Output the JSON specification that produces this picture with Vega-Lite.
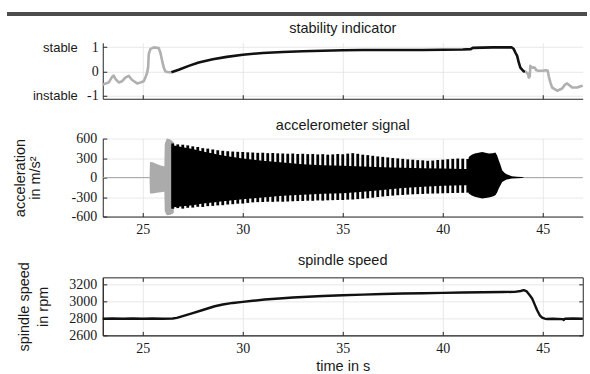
{
  "$schema": "https://vega.github.io/schema/vega-lite/v6.json",
  "padding": {"left": 5.75, "top": 12.75, "right": 2, "bottom": 0},
  "background": "white",
  "spacing": 13.8,
  "bounds": "full",
  "datasets": {
    "stab": [
      {"t": 23.0, "v": -0.55, "phase": "instable", "seg": "g1"},
      {"t": 23.05, "v": -0.52, "phase": "instable", "seg": "g1"},
      {"t": 23.3, "v": -0.45, "phase": "instable", "seg": "g1"},
      {"t": 23.47, "v": -0.22, "phase": "instable", "seg": "g1"},
      {"t": 23.55, "v": -0.17, "phase": "instable", "seg": "g1"},
      {"t": 23.63, "v": -0.3, "phase": "instable", "seg": "g1"},
      {"t": 23.8, "v": -0.45, "phase": "instable", "seg": "g1"},
      {"t": 23.97, "v": -0.4, "phase": "instable", "seg": "g1"},
      {"t": 24.13, "v": -0.25, "phase": "instable", "seg": "g1"},
      {"t": 24.3, "v": -0.18, "phase": "instable", "seg": "g1"},
      {"t": 24.47, "v": -0.35, "phase": "instable", "seg": "g1"},
      {"t": 24.72, "v": -0.49, "phase": "instable", "seg": "g1"},
      {"t": 24.88, "v": -0.45, "phase": "instable", "seg": "g1"},
      {"t": 25.05, "v": -0.4, "phase": "instable", "seg": "g1"},
      {"t": 25.13, "v": -0.25, "phase": "instable", "seg": "g1"},
      {"t": 25.22, "v": -0.04, "phase": "instable", "seg": "g1"},
      {"t": 25.27, "v": 0.17, "phase": "instable", "seg": "g1"},
      {"t": 25.3, "v": 0.71, "phase": "instable", "seg": "g1"},
      {"t": 25.38, "v": 0.92, "phase": "instable", "seg": "g1"},
      {"t": 25.55, "v": 0.99, "phase": "instable", "seg": "g1"},
      {"t": 25.8, "v": 0.96, "phase": "instable", "seg": "g1"},
      {"t": 25.88, "v": 0.78, "phase": "instable", "seg": "g1"},
      {"t": 25.97, "v": 0.44, "phase": "instable", "seg": "g1"},
      {"t": 26.05, "v": 0.16, "phase": "instable", "seg": "g1"},
      {"t": 26.13, "v": 0.0, "phase": "instable", "seg": "g1"},
      {"t": 26.3, "v": -0.03, "phase": "instable", "seg": "g1"},
      {"t": 26.43, "v": -0.03, "phase": "instable", "seg": "g1"},
      {"t": 26.43, "v": -0.03, "phase": "stable", "seg": "b"},
      {"t": 26.8, "v": 0.07, "phase": "stable", "seg": "b"},
      {"t": 27.3, "v": 0.23, "phase": "stable", "seg": "b"},
      {"t": 27.8, "v": 0.37, "phase": "stable", "seg": "b"},
      {"t": 28.5, "v": 0.5, "phase": "stable", "seg": "b"},
      {"t": 29.2, "v": 0.6, "phase": "stable", "seg": "b"},
      {"t": 30.0, "v": 0.69, "phase": "stable", "seg": "b"},
      {"t": 31.0, "v": 0.76, "phase": "stable", "seg": "b"},
      {"t": 32.0, "v": 0.8, "phase": "stable", "seg": "b"},
      {"t": 33.0, "v": 0.83, "phase": "stable", "seg": "b"},
      {"t": 34.0, "v": 0.85, "phase": "stable", "seg": "b"},
      {"t": 35.0, "v": 0.87, "phase": "stable", "seg": "b"},
      {"t": 36.0, "v": 0.88, "phase": "stable", "seg": "b"},
      {"t": 37.0, "v": 0.88, "phase": "stable", "seg": "b"},
      {"t": 38.0, "v": 0.88, "phase": "stable", "seg": "b"},
      {"t": 39.0, "v": 0.88, "phase": "stable", "seg": "b"},
      {"t": 40.0, "v": 0.89, "phase": "stable", "seg": "b"},
      {"t": 41.0, "v": 0.9, "phase": "stable", "seg": "b"},
      {"t": 41.4, "v": 0.92, "phase": "stable", "seg": "b"},
      {"t": 41.5, "v": 0.97, "phase": "stable", "seg": "b"},
      {"t": 42.5, "v": 0.99, "phase": "stable", "seg": "b"},
      {"t": 43.45, "v": 0.99, "phase": "stable", "seg": "b"},
      {"t": 43.55, "v": 0.92, "phase": "stable", "seg": "b"},
      {"t": 43.63, "v": 0.78, "phase": "stable", "seg": "b"},
      {"t": 43.72, "v": 0.64, "phase": "stable", "seg": "b"},
      {"t": 43.8, "v": 0.37, "phase": "stable", "seg": "b"},
      {"t": 43.88, "v": 0.16, "phase": "stable", "seg": "b"},
      {"t": 44.05, "v": 0.0, "phase": "stable", "seg": "b"},
      {"t": 44.13, "v": 0.0, "phase": "stable", "seg": "b"},
      {"t": 44.13, "v": 0.0, "phase": "instable", "seg": "g2"},
      {"t": 44.27, "v": -0.1, "phase": "instable", "seg": "g2"},
      {"t": 44.3, "v": -0.25, "phase": "instable", "seg": "g2"},
      {"t": 44.35, "v": -0.2, "phase": "instable", "seg": "g2"},
      {"t": 44.38, "v": 0.23, "phase": "instable", "seg": "g2"},
      {"t": 44.47, "v": 0.16, "phase": "instable", "seg": "g2"},
      {"t": 44.6, "v": 0.16, "phase": "instable", "seg": "g2"},
      {"t": 44.68, "v": 0.05, "phase": "instable", "seg": "g2"},
      {"t": 44.8, "v": 0.03, "phase": "instable", "seg": "g2"},
      {"t": 45.0, "v": 0.03, "phase": "instable", "seg": "g2"},
      {"t": 45.15, "v": 0.05, "phase": "instable", "seg": "g2"},
      {"t": 45.25, "v": 0.03, "phase": "instable", "seg": "g2"},
      {"t": 45.3, "v": -0.2, "phase": "instable", "seg": "g2"},
      {"t": 45.38, "v": -0.45, "phase": "instable", "seg": "g2"},
      {"t": 45.47, "v": -0.66, "phase": "instable", "seg": "g2"},
      {"t": 45.72, "v": -0.79, "phase": "instable", "seg": "g2"},
      {"t": 45.97, "v": -0.7, "phase": "instable", "seg": "g2"},
      {"t": 46.1, "v": -0.55, "phase": "instable", "seg": "g2"},
      {"t": 46.22, "v": -0.49, "phase": "instable", "seg": "g2"},
      {"t": 46.47, "v": -0.66, "phase": "instable", "seg": "g2"},
      {"t": 46.72, "v": -0.66, "phase": "instable", "seg": "g2"},
      {"t": 46.97, "v": -0.59, "phase": "instable", "seg": "g2"},
      {"t": 47.0, "v": -0.58, "phase": "instable", "seg": "g2"}
    ],
    "accZero": [
      {"t": 23.0, "a": 0, "seg": "z1"},
      {"t": 25.35, "a": 0, "seg": "z1"},
      {"t": 44.1, "a": 0, "seg": "z2"},
      {"t": 47.0, "a": 0, "seg": "z2"}
    ],
    "accGray": [
      {"t": 25.34, "hi": 0, "lo": 0},
      {"t": 25.36, "hi": 240, "lo": -245},
      {"t": 25.5, "hi": 235, "lo": -245},
      {"t": 25.7, "hi": 210, "lo": -235},
      {"t": 25.9, "hi": 185, "lo": -225},
      {"t": 26.05, "hi": 175, "lo": -220},
      {"t": 26.08, "hi": 175, "lo": -220},
      {"t": 26.1, "hi": 520, "lo": -520},
      {"t": 26.2, "hi": 600, "lo": -580},
      {"t": 26.35, "hi": 590, "lo": -575},
      {"t": 26.5, "hi": 560, "lo": -555},
      {"t": 26.55, "hi": 540, "lo": -540}
    ],
    "accBlack": [
      {"t": 26.44, "hi": 500, "lo": -460},
      {"t": 27.0, "hi": 465, "lo": -440},
      {"t": 27.5, "hi": 440, "lo": -425},
      {"t": 28.0, "hi": 400, "lo": -400},
      {"t": 28.5, "hi": 370, "lo": -385},
      {"t": 29.0, "hi": 340, "lo": -365},
      {"t": 29.5, "hi": 315, "lo": -350},
      {"t": 30.0, "hi": 295, "lo": -335},
      {"t": 31.0, "hi": 260, "lo": -305},
      {"t": 32.0, "hi": 230, "lo": -280},
      {"t": 33.0, "hi": 205, "lo": -265},
      {"t": 34.0, "hi": 190, "lo": -250},
      {"t": 35.0, "hi": 180, "lo": -240},
      {"t": 36.0, "hi": 170, "lo": -220},
      {"t": 37.0, "hi": 160, "lo": -190},
      {"t": 38.0, "hi": 150, "lo": -160},
      {"t": 39.0, "hi": 142, "lo": -140},
      {"t": 40.0, "hi": 138, "lo": -128},
      {"t": 41.0, "hi": 132, "lo": -120},
      {"t": 41.25, "hi": 132, "lo": -120},
      {"t": 41.3, "hi": 317, "lo": -246},
      {"t": 41.45, "hi": 350, "lo": -275},
      {"t": 41.6, "hi": 370, "lo": -295},
      {"t": 41.97, "hi": 394, "lo": -323},
      {"t": 42.3, "hi": 369, "lo": -308},
      {"t": 42.5, "hi": 372, "lo": -290},
      {"t": 42.63, "hi": 384, "lo": -272},
      {"t": 42.72, "hi": 340, "lo": -230},
      {"t": 42.8, "hi": 266, "lo": -169},
      {"t": 42.9, "hi": 180, "lo": -110},
      {"t": 42.97, "hi": 112, "lo": -68},
      {"t": 43.1, "hi": 70, "lo": -45},
      {"t": 43.2, "hi": 51, "lo": -31},
      {"t": 43.45, "hi": 20, "lo": -15},
      {"t": 43.7, "hi": 12, "lo": -9},
      {"t": 43.95, "hi": 8, "lo": -6},
      {"t": 44.1, "hi": 2, "lo": -2}
    ],
    "accTeeth": [
      {"t": 26.5, "hi": 525, "lo": -480},
      {"t": 26.75, "hi": 510, "lo": -470},
      {"t": 27.0, "hi": 505, "lo": -478},
      {"t": 27.25, "hi": 495, "lo": -465},
      {"t": 27.5, "hi": 480, "lo": -462},
      {"t": 27.75, "hi": 470, "lo": -450},
      {"t": 28.0, "hi": 452, "lo": -452},
      {"t": 28.25, "hi": 445, "lo": -440},
      {"t": 28.5, "hi": 432, "lo": -436},
      {"t": 28.75, "hi": 420, "lo": -428},
      {"t": 29.0, "hi": 412, "lo": -425},
      {"t": 29.25, "hi": 405, "lo": -415},
      {"t": 29.5, "hi": 400, "lo": -410},
      {"t": 29.75, "hi": 396, "lo": -402},
      {"t": 30.0, "hi": 393, "lo": -400},
      {"t": 30.25, "hi": 388, "lo": -390},
      {"t": 30.5, "hi": 385, "lo": -382},
      {"t": 30.75, "hi": 380, "lo": -378},
      {"t": 31.0, "hi": 382, "lo": -376},
      {"t": 31.25, "hi": 375, "lo": -372},
      {"t": 31.5, "hi": 378, "lo": -374},
      {"t": 31.75, "hi": 372, "lo": -370},
      {"t": 32.0, "hi": 370, "lo": -372},
      {"t": 32.25, "hi": 366, "lo": -368},
      {"t": 32.5, "hi": 370, "lo": -365},
      {"t": 32.75, "hi": 362, "lo": -362},
      {"t": 33.0, "hi": 366, "lo": -360},
      {"t": 33.25, "hi": 360, "lo": -356},
      {"t": 33.5, "hi": 362, "lo": -358},
      {"t": 33.75, "hi": 356, "lo": -352},
      {"t": 34.0, "hi": 360, "lo": -355},
      {"t": 34.25, "hi": 352, "lo": -350},
      {"t": 34.5, "hi": 356, "lo": -348},
      {"t": 34.75, "hi": 362, "lo": -345},
      {"t": 35.0, "hi": 358, "lo": -345},
      {"t": 35.25, "hi": 368, "lo": -340},
      {"t": 35.5, "hi": 375, "lo": -338},
      {"t": 35.75, "hi": 365, "lo": -332},
      {"t": 36.0, "hi": 352, "lo": -325},
      {"t": 36.25, "hi": 345, "lo": -318},
      {"t": 36.5, "hi": 335, "lo": -310},
      {"t": 36.75, "hi": 325, "lo": -300},
      {"t": 37.0, "hi": 318, "lo": -292},
      {"t": 37.25, "hi": 310, "lo": -285},
      {"t": 37.5, "hi": 300, "lo": -278},
      {"t": 37.75, "hi": 295, "lo": -272},
      {"t": 38.0, "hi": 288, "lo": -268},
      {"t": 38.25, "hi": 280, "lo": -262},
      {"t": 38.5, "hi": 275, "lo": -258},
      {"t": 38.75, "hi": 268, "lo": -255},
      {"t": 39.0, "hi": 265, "lo": -252},
      {"t": 39.25, "hi": 258, "lo": -248},
      {"t": 39.5, "hi": 262, "lo": -246},
      {"t": 39.75, "hi": 270, "lo": -245},
      {"t": 40.0, "hi": 275, "lo": -242},
      {"t": 40.25, "hi": 282, "lo": -240},
      {"t": 40.5, "hi": 288, "lo": -238},
      {"t": 40.75, "hi": 292, "lo": -236},
      {"t": 41.0, "hi": 290, "lo": -235},
      {"t": 41.25, "hi": 285, "lo": -232}
    ],
    "speed": [
      {"t": 23.0, "v": 2795}, {"t": 23.5, "v": 2798}, {"t": 24.0, "v": 2795},
      {"t": 24.5, "v": 2798}, {"t": 25.0, "v": 2795}, {"t": 25.5, "v": 2797},
      {"t": 26.0, "v": 2795}, {"t": 26.5, "v": 2798}, {"t": 26.7, "v": 2805},
      {"t": 27.0, "v": 2825}, {"t": 27.5, "v": 2860}, {"t": 28.0, "v": 2897},
      {"t": 28.6, "v": 2941}, {"t": 29.0, "v": 2962}, {"t": 29.5, "v": 2980},
      {"t": 30.0, "v": 2992}, {"t": 30.5, "v": 3005}, {"t": 31.1, "v": 3020},
      {"t": 32.0, "v": 3035}, {"t": 32.5, "v": 3044}, {"t": 33.0, "v": 3050},
      {"t": 34.0, "v": 3062}, {"t": 35.0, "v": 3070}, {"t": 36.0, "v": 3078},
      {"t": 37.0, "v": 3085}, {"t": 38.0, "v": 3090}, {"t": 39.0, "v": 3094},
      {"t": 40.0, "v": 3098}, {"t": 41.0, "v": 3102}, {"t": 42.0, "v": 3105},
      {"t": 43.0, "v": 3108}, {"t": 43.6, "v": 3110}, {"t": 43.9, "v": 3120},
      {"t": 44.05, "v": 3130}, {"t": 44.2, "v": 3115}, {"t": 44.35, "v": 3070},
      {"t": 44.47, "v": 3032}, {"t": 44.6, "v": 2960}, {"t": 44.72, "v": 2894},
      {"t": 44.85, "v": 2835}, {"t": 44.97, "v": 2808}, {"t": 45.1, "v": 2796},
      {"t": 45.2, "v": 2792}, {"t": 45.5, "v": 2795}, {"t": 46.0, "v": 2790},
      {"t": 46.05, "v": 2780}, {"t": 46.1, "v": 2795}, {"t": 46.5, "v": 2797},
      {"t": 47.0, "v": 2795}
    ]
  },
  "vconcat": [
    {
      "width": 480,
      "height": 56,
      "title": {"text": "stability indicator", "frame": "group", "offset": -24},
      "data": {"name": "stab"},
      "encoding": {
        "x": {"field": "t", "type": "quantitative",
          "scale": {"domain": [23, 47], "nice": false, "zero": false},
          "axis": {"values": [25, 30, 35, 40, 45], "labels": false, "title": null}}
      },
      "layer": [
        {
          "mark": {"type": "line", "strokeWidth": 2.6, "strokeJoin": "round"},
          "encoding": {
            "y": {"field": "v", "type": "quantitative",
              "scale": {"domain": [-1.12, 1.18], "nice": false, "zero": false},
              "axis": {"values": [-1, 0, 1], "title": null, "labelPadding": 8.5,
                "labelFont": "Liberation Serif",
                "labelExpr": "replace(datum.label, '−', '-')"}},
            "color": {"field": "phase", "type": "nominal",
              "scale": {"domain": ["instable", "stable"], "range": ["#b0b0b0", "#111111"]},
              "legend": null},
            "detail": {"field": "seg"}
          }
        },
        {
          "mark": {"type": "line", "opacity": 0},
          "encoding": {
            "y": {"field": "v", "type": "quantitative",
              "scale": {"domain": [-1.12, 1.18], "nice": false, "zero": false},
              "axis": {"orient": "left", "values": [-1, 1], "title": null,
                "labelExpr": "datum.value > 0 ? 'stable' : 'instable'",
                "domain": false, "ticks": false, "grid": false, "labelPadding": 25.5,
                "labelFont": "Liberation Sans", "labelFontSize": 13}},
            "detail": {"field": "seg"}
          }
        },
        {
          "mark": {"type": "rule", "color": "#4d4d4d", "strokeWidth": 2.5},
          "encoding": {
            "x": {"datum": 18.25},
            "x2": {"datum": 47.2},
            "y": {"datum": 2.359, "axis": null}
          }
        }
      ],
      "resolve": {"axis": {"y": "independent"}}
    },
    {
      "width": 480,
      "height": 78,
      "title": {"text": "accelerometer signal", "frame": "group", "offset": -2},
      "encoding": {
        "x": {"field": "t", "type": "quantitative",
          "scale": {"domain": [23, 47], "nice": false, "zero": false},
          "axis": {"values": [25, 30, 35, 40, 45], "title": " ", "titleFontSize": 1, "titlePadding": 0.9,
            "labelFont": "Liberation Serif"}}
      },
      "layer": [
        {
          "data": {"name": "accZero"},
          "mark": {"type": "line", "color": "#a8a8a8", "strokeWidth": 1},
          "encoding": {
            "y": {"field": "a", "type": "quantitative",
              "scale": {"domain": [-600, 600], "nice": false, "zero": false},
              "axis": {"values": [-600, -300, 0, 300, 600], "title": ["acceleration", "in m/s²"],
                "titleX": -75.5, "titleLineHeight": 15, "labelPadding": 10, "labelFont": "Liberation Serif",
                "labelExpr": "replace(datum.label, '−', '-')"}},
            "detail": {"field": "seg"}
          }
        },
        {
          "data": {"name": "accGray"},
          "mark": {"type": "area", "color": "#ababab"},
          "encoding": {
            "y": {"field": "hi", "type": "quantitative", "stack": null,
              "scale": {"domain": [-600, 600], "nice": false, "zero": false},
              "axis": {"values": [-600, -300, 0, 300, 600], "title": ["acceleration", "in m/s²"],
                "titleX": -75.5, "titleLineHeight": 15, "labelPadding": 10, "labelFont": "Liberation Serif",
                "labelExpr": "replace(datum.label, '−', '-')"}},
            "y2": {"field": "lo"}
          }
        },
        {
          "data": {"name": "accBlack"},
          "mark": {"type": "area", "color": "#000000"},
          "encoding": {
            "y": {"field": "hi", "type": "quantitative", "stack": null,
              "scale": {"domain": [-600, 600], "nice": false, "zero": false},
              "axis": {"values": [-600, -300, 0, 300, 600], "title": ["acceleration", "in m/s²"],
                "titleX": -75.5, "titleLineHeight": 15, "labelPadding": 10, "labelFont": "Liberation Serif",
                "labelExpr": "replace(datum.label, '−', '-')"}},
            "y2": {"field": "lo"}
          }
        },
        {
          "data": {"name": "accTeeth"},
          "mark": {"type": "rule", "color": "#000000", "strokeWidth": 2.8},
          "encoding": {
            "y": {"field": "hi", "type": "quantitative",
              "scale": {"domain": [-600, 600], "nice": false, "zero": false},
              "axis": {"values": [-600, -300, 0, 300, 600], "title": ["acceleration", "in m/s²"],
                "titleX": -75.5, "titleLineHeight": 15, "labelPadding": 10, "labelFont": "Liberation Serif",
                "labelExpr": "replace(datum.label, '−', '-')"}},
            "y2": {"field": "lo"}
          }
        }
      ]
    },
    {
      "width": 480,
      "height": 58,
      "title": {"text": "spindle speed", "frame": "group", "offset": -7},
      "view": {"stroke": "#262626", "strokeWidth": 1},
      "data": {"name": "speed"},
      "encoding": {
        "x": {"field": "t", "type": "quantitative",
          "scale": {"domain": [23, 47], "nice": false, "zero": false}},
        "y": {"field": "v", "type": "quantitative",
          "scale": {"domain": [2600, 3280], "nice": false, "zero": false}}
      },
      "layer": [
        {
          "mark": {"type": "line", "color": "#111111", "strokeWidth": 2.4, "strokeJoin": "round"},
          "encoding": {
            "x": {"field": "t", "type": "quantitative",
              "axis": {"values": [25, 30, 35, 40, 45], "title": "time in s", "titlePadding": 4.5,
                "labelFont": "Liberation Serif"}},
            "y": {"field": "v", "type": "quantitative",
              "axis": {"values": [2600, 2800, 3000, 3200], "format": "d", "title": ["spindle speed", "in rpm"],
                "titleX": -71.5, "titleLineHeight": 19, "labelPadding": 10, "labelFont": "Liberation Serif"}}
          }
        },
        {
          "mark": {"type": "line", "opacity": 0},
          "encoding": {
            "x": {"field": "t", "type": "quantitative",
              "axis": {"orient": "top", "values": [25, 30, 35, 40, 45], "labels": false, "grid": false,
                "domain": false, "title": null}},
            "y": {"field": "v", "type": "quantitative",
              "axis": {"orient": "right", "values": [2600, 2800, 3000, 3200], "labels": false, "grid": false,
                "domain": false, "title": null}}
          }
        }
      ],
      "resolve": {"axis": {"x": "independent", "y": "independent"}}
    }
  ],
  "config": {
    "view": {"stroke": null},
    "title": {"font": "Liberation Sans", "fontSize": 14.5, "fontWeight": "normal", "color": "#1a1a1a", "anchor": "middle"},
    "axis": {
      "domainColor": "#262626",
      "tickColor": "#262626",
      "tickSize": -4,
      "gridColor": "#e2e2e2",
      "gridWidth": 0.8,
      "labelFont": "Liberation Serif",
      "labelFontSize": 14,
      "labelColor": "#1a1a1a",
      "labelPadding": 10,
      "titleFont": "Liberation Sans",
      "titleFontSize": 14.5,
      "titleFontWeight": "normal",
      "titleColor": "#1a1a1a"
    }
  }
}
